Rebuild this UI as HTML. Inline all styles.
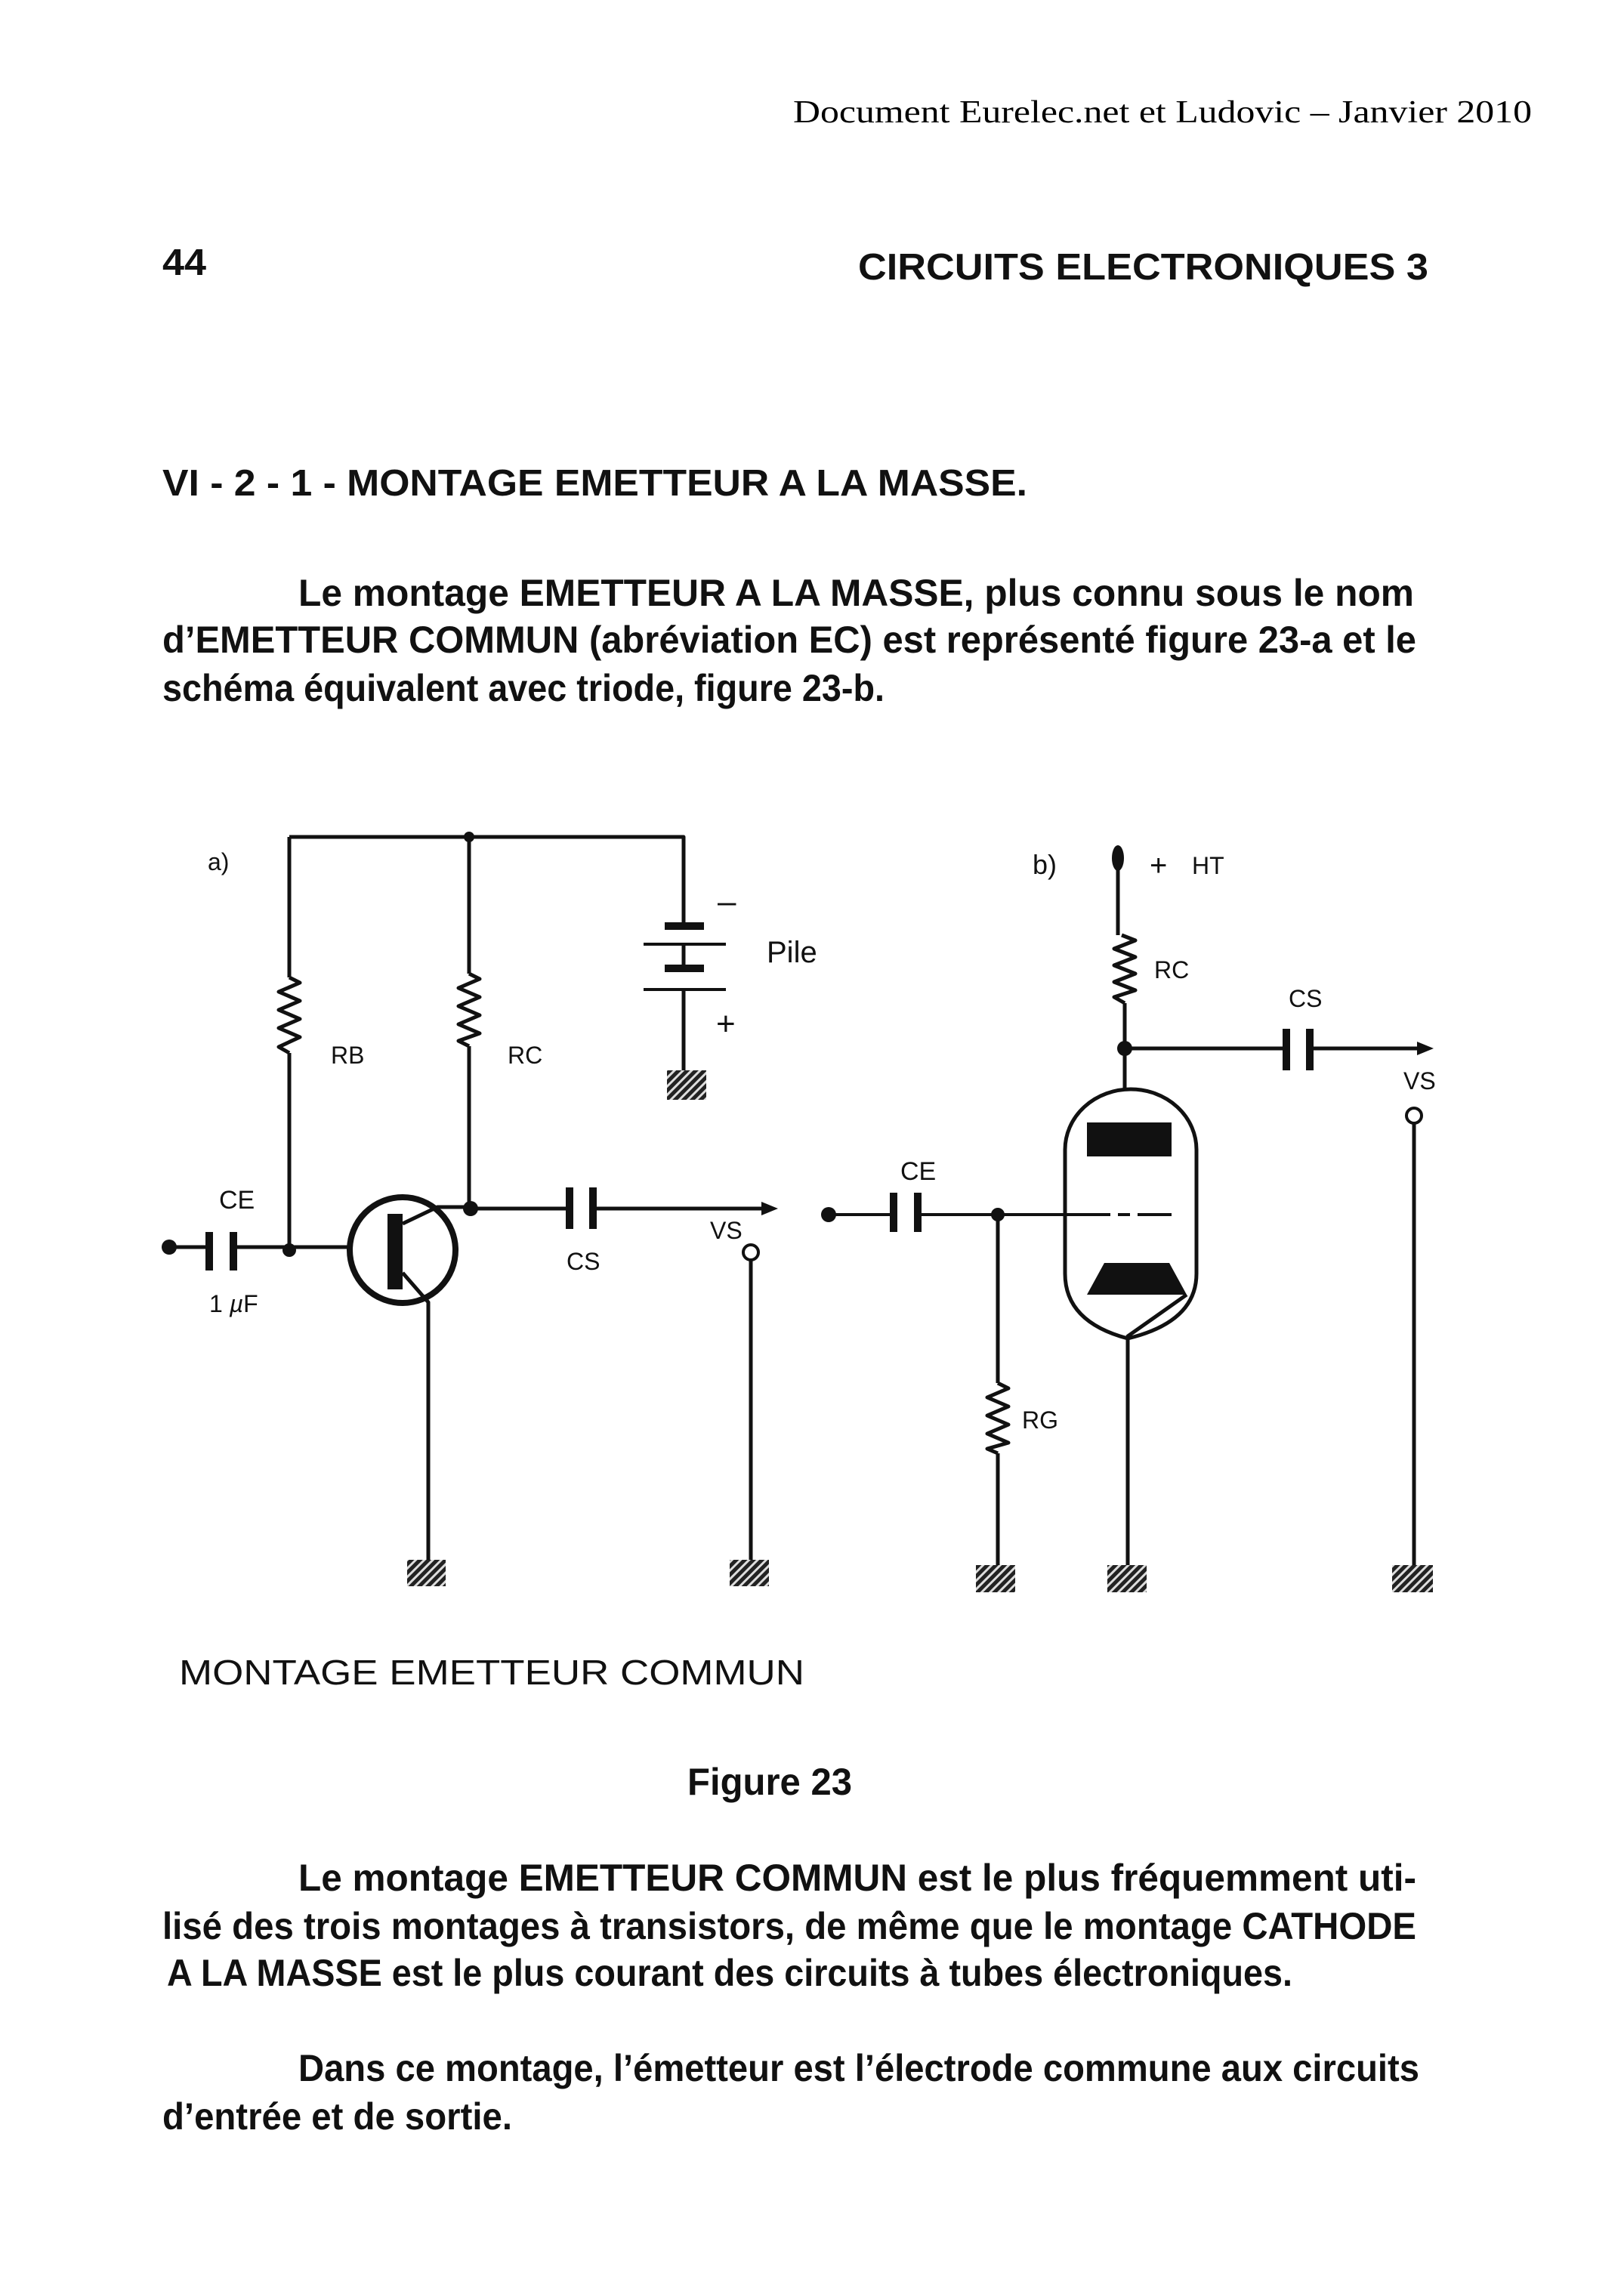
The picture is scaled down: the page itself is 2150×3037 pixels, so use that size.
<!DOCTYPE html>
<html><head><meta charset="utf-8"><style>
html,body{margin:0;padding:0;background:#fff;}
svg{display:block;}
.b{font-family:"Liberation Sans Narrow","Liberation Sans",sans-serif;font-weight:bold;fill:#111;}
.l{font-family:"Liberation Sans",sans-serif;fill:#111;}
</style></head><body>
<svg width="2150" height="3037" viewBox="0 0 2150 3037" xmlns="http://www.w3.org/2000/svg">
<defs>
<pattern id="h" width="8" height="8" patternUnits="userSpaceOnUse" patternTransform="rotate(45)">
<rect width="8" height="8" fill="#222"/><rect width="3" height="8" fill="#ddd"/>
</pattern>
</defs>
<rect width="2150" height="3037" fill="#fff"/>
<text x="1050" y="162" font-family="Liberation Serif,serif" font-size="42" fill="#000" textLength="978" lengthAdjust="spacingAndGlyphs">Document Eurelec.net et Ludovic – Janvier 2010</text>
<text class="b" x="215" y="364" font-size="49" textLength="58" lengthAdjust="spacingAndGlyphs">44</text>
<text class="b" x="1136" y="370" font-size="49" textLength="755" lengthAdjust="spacingAndGlyphs">CIRCUITS ELECTRONIQUES 3</text>
<text class="b" x="215" y="656" font-size="49" textLength="1145" lengthAdjust="spacingAndGlyphs">VI - 2 - 1 - MONTAGE EMETTEUR A LA MASSE.</text>
<text class="b" x="395" y="802" font-size="50" textLength="1477" lengthAdjust="spacingAndGlyphs">Le montage EMETTEUR A LA MASSE, plus connu sous le nom</text>
<text class="b" x="215" y="864" font-size="50" textLength="1660" lengthAdjust="spacingAndGlyphs">d’EMETTEUR COMMUN (abréviation EC) est représenté figure 23-a et le</text>
<text class="b" x="215" y="928" font-size="50" textLength="956" lengthAdjust="spacingAndGlyphs">schéma équivalent avec triode, figure 23-b.</text>

<text class="l" x="237" y="2230" font-size="46" textLength="828" lengthAdjust="spacingAndGlyphs">MONTAGE EMETTEUR COMMUN</text>
<text class="b" x="910" y="2376" font-size="50" textLength="218" lengthAdjust="spacingAndGlyphs">Figure 23</text>
<text class="b" x="395" y="2503" font-size="50" textLength="1480" lengthAdjust="spacingAndGlyphs">Le montage EMETTEUR COMMUN est le plus fréquemment uti-</text>
<text class="b" x="215" y="2567" font-size="50" textLength="1660" lengthAdjust="spacingAndGlyphs">lisé des trois montages à transistors, de même que le montage CATHODE</text>
<text class="b" x="221" y="2629" font-size="50" textLength="1490" lengthAdjust="spacingAndGlyphs">A LA MASSE est le plus courant des circuits à tubes électroniques.</text>
<text class="b" x="395" y="2755" font-size="50" textLength="1484" lengthAdjust="spacingAndGlyphs">Dans ce montage, l’émetteur est l’électrode commune aux circuits</text>
<text class="b" x="215" y="2819" font-size="50" textLength="463" lengthAdjust="spacingAndGlyphs">d’entrée et de sortie.</text>

<g stroke="#111" stroke-width="5" fill="none" stroke-linejoin="round">
<path d="M383,1108 H905 V1226"/>
<path d="M383,1108 V1294 M383,1394 V1655"/>
<path d="M383,1294 L397,1301 L369,1313 L397,1325 L369,1337 L397,1349 L369,1361 L397,1373 L369,1386 L383,1394"/>
<path d="M621,1108 V1289 M621,1385 V1600"/>
<path d="M621,1289 L635,1296 L607,1308 L635,1320 L607,1332 L635,1344 L607,1356 L635,1368 L607,1378 L621,1385"/>
<path d="M905,1282 V1250 M905,1310 V1417"/>
<path d="M852,1250 H961 M852,1310 H961" stroke-width="4"/>
<path d="M880,1226 H932 M880,1282 H932" stroke-width="10"/>
<path d="M226,1651 H277 M309,1651 H383 H465"/>
<path d="M277,1631 V1682 M309,1631 V1682" stroke-width="10"/>
<circle cx="533" cy="1655" r="70" stroke-width="8"/>
<path d="M533,1620 L579,1598 H621 M533,1685 L567,1724 V2065"/>
<path d="M621,1600 H754 M785,1600 H1012"/>
<path d="M754,1572 V1627 M785,1572 V1627" stroke-width="10"/>
<circle cx="994" cy="1658" r="10" stroke-width="4"/>
<path d="M994,1668 V2065"/>
<path d="M1480,1140 V1238 M1489,1328 V1442"/>
<path d="M1485,1238 L1503,1245 L1475,1256 L1503,1267 L1475,1278 L1503,1289 L1475,1300 L1503,1311 L1475,1320 L1489,1328"/>
<path d="M1489,1388 H1703 M1734,1388 H1882"/>
<path d="M1703,1362 V1417 M1734,1362 V1417" stroke-width="10"/>
<circle cx="1872" cy="1477" r="10" stroke-width="4"/>
<path d="M1872,1487 V2072"/>
<path d="M1410,1522 A87,80 0 0 1 1584,1522 V1686 Q1584,1750 1493,1772 Q1410,1750 1410,1686 Z"/>
<path d="M1097,1608 H1183 M1215,1608 H1470 M1480,1608 H1496 M1506,1608 H1551" stroke-width="4"/>
<path d="M1183,1579 V1631 M1215,1579 V1631" stroke-width="10"/>
<path d="M1321,1608 V1831 M1321,1924 V2072"/>
<path d="M1321,1831 L1335,1838 L1307,1850 L1335,1862 L1307,1874 L1335,1886 L1307,1898 L1335,1910 L1307,1918 L1321,1924"/>
<path d="M1571,1714 L1493,1769 V2072"/>
</g>
<g fill="#111">
<circle cx="224" cy="1651" r="10"/>
<circle cx="383" cy="1655" r="9"/>
<circle cx="621" cy="1108" r="7"/>
<circle cx="623" cy="1600" r="10"/>
<rect x="513" y="1607" width="20" height="100"/>
<path d="M1030,1600 L1008,1591 L1008,1609 Z"/>
<circle cx="1097" cy="1608" r="10"/>
<circle cx="1321" cy="1608" r="9"/>
<circle cx="1489" cy="1388" r="10"/>
<ellipse cx="1480" cy="1136" rx="8" ry="17"/>
<path d="M1898,1388 L1876,1379 L1876,1397 Z"/>
<rect x="1439" y="1486" width="112" height="45"/>
<path d="M1462,1672 H1548 L1571,1714 H1439 Z"/>
</g>
<g fill="url(#h)">
<rect x="883" y="1417" width="52" height="39"/>
<rect x="539" y="2065" width="51" height="35"/>
<rect x="966" y="2065" width="52" height="35"/>
<rect x="1292" y="2072" width="52" height="36"/>
<rect x="1466" y="2072" width="52" height="36"/>
<rect x="1843" y="2072" width="54" height="36"/>
</g>
<g class="l" font-size="32">
<text x="275" y="1152">a)</text>
<text x="438" y="1408">RB</text>
<text x="672" y="1408">RC</text>
<text x="290" y="1600" font-size="34">CE</text>
<text x="277" y="1737">1 <tspan font-style="italic">µ</tspan>F</text>
<text x="750" y="1681">CS</text>
<text x="940" y="1640">VS</text>
<text x="1015" y="1274" font-size="40">Pile</text>
<text x="950" y="1208" font-size="44">–</text>
<text x="948" y="1370" font-size="44">+</text>
<text x="1367" y="1157" font-size="36">b)</text>
<text x="1522" y="1159" font-size="40">+</text>
<text x="1578" y="1157">HT</text>
<text x="1528" y="1295">RC</text>
<text x="1706" y="1333">CS</text>
<text x="1858" y="1442">VS</text>
<text x="1192" y="1562" font-size="34">CE</text>
<text x="1353" y="1891">RG</text>
</g>
</svg>
</body></html>
